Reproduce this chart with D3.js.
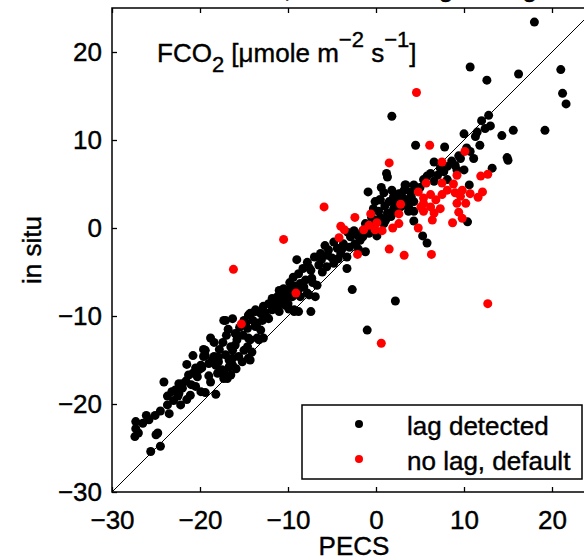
<!DOCTYPE html>
<html>
<head>
<meta charset="utf-8">
<script src="https://cdn.jsdelivr.net/npm/d3@7"></script>
<style>
  body { margin: 0; background: #fff; overflow: hidden; }
  svg { display: block; font-family: "Liberation Sans", Arial, Helvetica, sans-serif; }
  svg text { fill: #000; stroke: #000; stroke-width: 0.4px; }
  .tick text { font-size: 26px; }
</style>
</head>
<body>
<div id="chart"></div>
<script>
// axis ticks
const xTicks = [-30, -20, -10, 0, 10, 20];
const yTicks = [-30, -20, -10, 0, 10, 20];

// PECS vs in situ FCO2, time lag detected (black)
const lagDetected = [
  [-17.1,-10.5],[-16.3,-10.3],[-18.4,-13.0],[-17.4,-13.0],[-19.6,-13.8],[-19.4,-14.5],[-21.5,-15.5],
  [-18.6,-15.0],[-17.9,-14.7],[-17.1,-14.4],[-16.3,-14.8],[-16.7,-15.8],[-17.5,-16.1],[-18.2,-15.6],
  [-19.0,-15.4],[-19.8,-15.9],[-20.3,-16.9],[-20.1,-16.1],[-17.3,-17.1],[-16.5,-16.7],[-20.5,-18.0],
  [-19.4,-18.7],[-18.2,-18.9],[-24.1,-17.5],[-22.4,-17.7],[-21.6,-17.4],[-22.0,-18.2],[-23.7,-19.1],
  [-22.5,-19.1],[-21.1,-19.0],[-21.5,-19.5],[-22.2,-20.1],[-23.7,-20.1],[-23.5,-21.1],[-26.1,-21.3],
  [-25.1,-21.3],[-27.3,-22.0],[-27.3,-22.8],[-27.4,-23.7],[-27.0,-23.3],[-24.8,-23.3],[-24.5,-24.8],
  [-25.6,-25.4],[-15.1,-12.2],[-14.5,-12.5],[-13.3,-12.7],[-15.0,-13.9],[-14.5,-14.8],[-14.3,-9.7],
  [-13.7,-9.5],[-12.9,-9.3],[-12.2,-8.6],[-11.4,-8.9],[-10.7,-7.8],[-11.0,-7.1],[-12.9,-10.5],
  [-12.2,-10.3],[-13.7,-11.2],[-16.0,-12.0],[-15.8,-12.7],[-16.5,-13.5],
  [1.2,6.2],[1.3,5.8],[3.3,4.9],[-0.9,4.1],[2.6,3.9],[-0.1,3.0],[0.4,3.2],[1.3,1.7],[2.0,1.9],
  [0.8,0.6],[0.1,-0.9],[-2.1,-0.8],[-2.9,-1.0],[-3.7,-1.8],[-4.4,-2.3],[-5.4,-2.5],[-6.3,-2.9],
  [-5.5,-3.1],[-4.0,-2.9],[-3.3,-3.3],[-1.2,-2.7],[-9.0,-3.6],[-8.8,-5.2],[-7.4,-4.8],[-6.1,-5.0],
  [-4.8,-4.0],[-3.3,-4.6],[-8.0,-5.9],[-7.3,-5.7],[-6.7,-6.5],[-8.2,-6.7],[-10.5,-6.9],[-11.2,-7.8],
  [-10.1,-7.8],[-10.9,-8.6],[-7.8,-7.4],[-6.9,-7.8],[-9.3,-9.3],[-7.4,-9.5],[-11.6,-8.9],[-12.8,-8.9],
  [-13.1,-9.7],[-14.3,-9.9],[-12.4,-10.1],[-13.5,-10.8],[-2.7,-7.0],[2.2,-8.3],[-1.8,-1.4],
  [-8.6,-6.3],[-10.3,-7.8],[-9.5,-7.8],[-8.6,-7.8],[-7.6,-7.6],[-8.8,-9.5],[-10.3,-8.8],[-11.2,-8.8],
  [-11.6,-8.2],[-13.7,-9.3],[-14.5,-9.9],[-15.0,-10.5],[-17.3,-10.5],[-14.6,-11.4],[-13.7,-11.0],
  [-13.1,-11.6],[-12.8,-12.5],[-13.5,-12.5],[-14.3,-12.7],[-15.8,-12.2],[-14.6,-13.5],[-14.1,-14.1],
  [-14.3,-15.0],[-16.0,-13.3],[-16.3,-13.9],[-15.6,-14.6],[-16.7,-15.0],[-16.3,-15.6],[-17.9,-15.2],
  [-18.4,-14.6],[-19.4,-13.9],[-19.6,-14.6],[-19.9,-15.6],[-20.5,-15.9],[-17.3,-16.3],[-16.9,-17.1],
  [-22.0,-17.7],[-22.4,-18.8],[-19.9,-18.6],[-25.0,-23.5],[-9.3,-9.5],
  [10.7,18.3],[12.6,16.8],[16.2,17.5],[21.0,18.0],[21.2,15.3],[21.6,14.1],[1.8,12.7],[12.8,12.8],
  [12.4,11.3],[13.0,11.6],[15.6,11.1],[19.2,11.1],[10.0,10.7],[11.3,10.4],[11.8,9.4],[14.3,10.5],
  [4.5,9.4],[7.8,9.2],[10.7,8.7],[11.1,7.9],[9.6,7.9],[14.9,8.0],[15.0,7.7],[13.2,6.8],[6.6,7.5],
  [8.1,7.0],[10.0,6.6],[9.0,7.1],[6.2,6.2],[7.0,6.0],[7.7,6.4],[5.4,5.5],[6.6,5.3],[8.1,5.5],
  [4.3,4.9],[3.4,4.9],[2.8,3.9],[3.9,4.1],[4.7,4.3],[2.6,3.2],[3.5,3.2],[4.3,3.0],[3.7,2.4],
  [2.8,2.4],[2.0,2.2],[1.7,1.3],[0.9,0.5],[3.7,1.9],[4.3,1.9],[0.5,3.2],[10.6,4.9],[9.2,6.6],
  [4.3,0.8],[5.3,-0.9],[5.8,-1.7],[10.4,0.7],[18.0,23.4],[-1.0,-11.6],
  [-0.5,1.2],[0.3,1.9],[1.0,2.5],[1.5,3.0],[-1.2,0.5],[-2.5,-0.3],[-3.2,-0.5],[-1.5,-0.3],
  [0.0,0.8],[2.3,2.8],[3.0,3.5],[1.8,4.3],[0.6,4.6],[-4.8,-1.6],[-5.8,-2.0],[-7.0,-3.3],
  [-7.8,-3.9],[-6.5,-4.2],[-9.8,-6.2],[-8.8,-7.0],[-11.8,-8.0],[-12.6,-9.6],[-10.0,-8.6],[-9.9,-9.2],
  [-26.5,-22.2],[-25.8,-21.8],[-23.0,-19.6],[-22.8,-18.4],[-21.0,-17.8],[-20.8,-16.5],[-19.0,-16.8],
  [-18.8,-17.5],[-18.0,-16.5],[-17.8,-13.8],[-17.0,-12.2],[-16.8,-11.5],[-15.5,-11.3],[-14.8,-10.8],
  [-14.0,-10.5],[-15.2,-15.2],[-15.9,-16.0],[-18.8,-12.5],[-20.8,-14.5],[-21.3,-16.7],[-23.2,-18.6],
  [-24.5,-20.8],[-11.8,-9.3],[-11.0,-9.5],[-10.5,-8.2],[-9.9,-7.0],[-9.2,-6.6],[-9.4,-5.6],
  [-8.3,-4.6],[-7.6,-4.5],[-7.2,-6.2],[-6.2,-3.6],[-5.6,-4.4],[-5.0,-3.4],[-4.3,-3.5],[-3.8,-2.3],
  [-3.0,-2.2],[-2.4,-1.8],[-2.0,-2.4],[-1.5,-1.0],[-0.8,-0.6],[-0.3,0.1],[0.5,1.2],[1.1,0.9],
  [1.8,1.6],[2.4,2.0],[3.1,2.6],[3.2,4.3],[2.0,3.6],[0.9,4.0],[-0.3,2.2],[4.0,3.6],[5.0,4.6],
  [5.8,5.9],[7.3,6.8],[8.6,7.6],[9.4,8.2],[10.3,9.1],[11.5,10.9],[12.0,12.2]
];

// no lag found, default lag used (red)
const noLagDefault = [
  [-16.2,-4.7],[-15.3,-10.9],[1.5,7.4],[-5.9,2.4],[-10.5,-1.3],[-2.4,1.2],[-4.0,0.2],[-3.6,-0.2],
  [-4.2,-1.1],[-0.6,1.6],[0.1,0.6],[-1.4,-0.2],[-0.8,0.3],[2.6,0.5],[1.9,0.0],[2.8,2.7],[1.5,-2.4],
  [3.2,-3.1],[-2.1,-3.0],[-9.1,-7.4],[4.6,15.4],[6.1,9.4],[10.1,8.7],[7.5,7.5],[9.2,6.0],
  [11.9,5.9],[12.7,6.1],[5.7,5.1],[7.5,5.1],[8.8,5.0],[4.8,4.1],[7.5,3.8],[8.1,4.3],[9.0,4.0],
  [9.8,4.3],[10.7,3.9],[12.1,4.1],[11.6,3.5],[5.4,3.4],[6.2,3.8],[6.8,3.2],[5.1,2.4],[6.2,2.4],
  [7.3,2.2],[9.2,2.8],[10.2,2.8],[9.6,3.6],[6.6,1.7],[5.4,1.9],[9.4,1.8],[9.8,1.1],[8.7,0.6],
  [6.4,0.9],[4.8,0.0],[6.3,-3.0],[12.7,-8.6],[0.6,-13.1],[-0.1,-0.2],[0.7,-0.3],[2.6,1.6],[5.4,2.8]
];

const W = 584, H = 558;
const x0 = -30, x1 = 25, y0 = -30, y1 = 25;

const svg = d3.select("#chart").append("svg")
  .attr("width", W)
  .attr("height", H);

const x = d3.scaleLinear().domain([x0, x1]).range([112, 596]);
const y = d3.scaleLinear().domain([y0, y1]).range([492, 8]);

const fmt = d => (d < 0 ? "\u2212" + Math.abs(d) : d);

// clipped title (only descenders show above the axes)
svg.append("text")
  .attr("x", 537)
  .attr("y", -3)
  .attr("text-anchor", "end")
  .style("font-size", "26px")
  .text("In situ vs. PECS, automatic lag testing");

svg.append("clipPath").attr("id", "plotclip")
  .append("rect")
  .attr("x", x(x0)).attr("y", y(y1))
  .attr("width", x(x1) - x(x0)).attr("height", y(y0) - y(y1));

const plot = svg.append("g").attr("clip-path", "url(#plotclip)");

// 1:1 line
plot.append("line")
  .attr("x1", x(x0)).attr("y1", y(y0))
  .attr("x2", x(x1)).attr("y2", y(y1))
  .attr("stroke", "#000")
  .attr("stroke-width", 1);

plot.selectAll(".lag")
  .data(lagDetected)
  .enter().append("circle")
  .attr("class", "lag")
  .attr("cx", d => x(d[0]))
  .attr("cy", d => y(d[1]))
  .attr("r", 4.5)
  .attr("fill", "#000");

plot.selectAll(".nolag")
  .data(noLagDefault)
  .enter().append("circle")
  .attr("class", "nolag")
  .attr("cx", d => x(d[0]))
  .attr("cy", d => y(d[1]))
  .attr("r", 4.5)
  .attr("fill", "#ff0000");

// axes, ticks pointing inward (matlab style)
const xAxis = svg.append("g")
  .attr("transform", "translate(0," + y(y0) + ")")
  .call(d3.axisBottom(x).tickValues(xTicks).tickSizeInner(-5).tickSizeOuter(0)
    .tickPadding(19).tickFormat(fmt));
xAxis.select(".domain").remove();

svg.append("g")
  .attr("transform", "translate(0," + y(y1) + ")")
  .call(d3.axisTop(x).tickValues(xTicks).tickSizeInner(-5).tickSizeOuter(0).tickFormat(""))
  .select(".domain").remove();

const yAxis = svg.append("g")
  .attr("transform", "translate(" + x(x0) + ",0)")
  .call(d3.axisLeft(y).tickValues(yTicks).tickSizeInner(-5).tickSizeOuter(0)
    .tickPadding(10).tickFormat(fmt));
yAxis.select(".domain").remove();

svg.selectAll(".tick line").attr("stroke", "#000").attr("stroke-width", 1.3);

// axes box
svg.append("rect")
  .attr("x", x(x0)).attr("y", y(y1))
  .attr("width", x(x1) - x(x0)).attr("height", y(y0) - y(y1))
  .attr("fill", "none")
  .attr("stroke", "#000")
  .attr("stroke-width", 1.5);

// axis labels
svg.append("text")
  .attr("x", (x(x0) + x(x1)) / 2)
  .attr("y", 555)
  .attr("text-anchor", "middle")
  .style("font-size", "26px")
  .text("PECS");

svg.append("text")
  .attr("transform", "translate(41," + (y(y0) + y(y1)) / 2 + ") rotate(-90)")
  .attr("text-anchor", "middle")
  .style("font-size", "26px")
  .text("in situ");

// units annotation
const ann = svg.append("text")
  .attr("x", 157)
  .attr("y", 62)
  .style("font-size", "26px");
ann.append("tspan").text("FCO");
ann.append("tspan").attr("dy", 10).style("font-size", "22px").text("2");
ann.append("tspan").attr("dy", -10).text(" [\u03bcmole m");
ann.append("tspan").attr("dy", -15).style("font-size", "22px").text("\u22122");
ann.append("tspan").attr("dy", 15).text(" s");
ann.append("tspan").attr("dy", -15).style("font-size", "22px").text("\u22121");
ann.append("tspan").attr("dy", 15).text("]");

// legend
const legendItems = [
  { label: "lag detected", color: "#000" },
  { label: "no lag, default", color: "#ff0000" }
];

const legend = svg.append("g");
legend.append("rect")
  .attr("x", 302).attr("y", 405)
  .attr("width", 280).attr("height", 74)
  .attr("fill", "#fff")
  .attr("stroke", "#000")
  .attr("stroke-width", 1.5);

const li = legend.selectAll(".item")
  .data(legendItems)
  .enter().append("g")
  .attr("transform", (d, i) => "translate(0," + (424 + i * 35) + ")");

li.append("circle")
  .attr("cx", 359).attr("cy", 0)
  .attr("r", 4)
  .attr("fill", d => d.color);

li.append("text")
  .attr("x", 407).attr("y", 11)
  .style("font-size", "26px")
  .text(d => d.label);
</script>
</body>
</html>
